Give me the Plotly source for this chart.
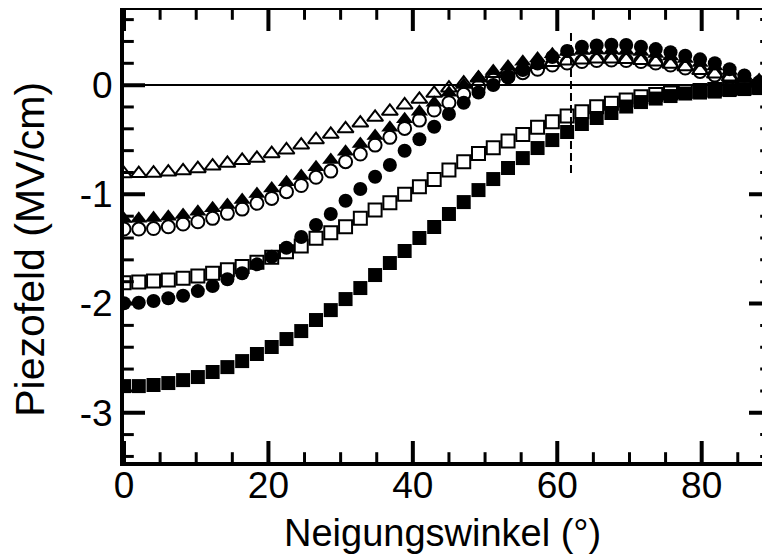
import plotly.graph_objects as go

# tilt angle (degrees), 45 samples from 0 to 90
angle = [0, 2.045, 4.091, 6.136, 8.182, 10.227, 12.273, 14.318, 16.364, 18.409,
         20.455, 22.5, 24.545, 26.591, 28.636, 30.682, 32.727, 34.773, 36.818, 38.864,
         40.909, 42.955, 45, 47.045, 49.091, 51.136, 53.182, 55.227, 57.273, 59.318,
         61.364, 63.409, 65.455, 67.5, 69.545, 71.591, 73.636, 75.682, 77.727, 79.773,
         81.818, 83.864, 85.909, 87.955, 90]

filled_squares = [-2.756, -2.756, -2.746, -2.728, -2.701, -2.673, -2.627, -2.582, -2.527, -2.462,
                  -2.398, -2.325, -2.252, -2.151, -2.060, -1.959, -1.858, -1.739, -1.629, -1.519,
                  -1.400, -1.299, -1.180, -1.071, -0.961, -0.860, -0.759, -0.668, -0.576, -0.503,
                  -0.429, -0.356, -0.301, -0.255, -0.196, -0.155, -0.123, -0.100, -0.077, -0.068,
                  -0.059, -0.045, -0.036, -0.027, -0.017]
open_squares = [-1.810, -1.803, -1.794, -1.785, -1.769, -1.748, -1.723, -1.690, -1.660, -1.623,
                -1.577, -1.526, -1.473, -1.403, -1.352, -1.297, -1.220, -1.144, -1.077, -1.000,
                -0.930, -0.863, -0.777, -0.701, -0.625, -0.573, -0.512, -0.451, -0.386, -0.335,
                -0.283, -0.244, -0.198, -0.167, -0.136, -0.106, -0.086, -0.072, -0.059, -0.049,
                -0.040, -0.031, -0.022, -0.013, -0.004]
filled_circles = [-1.998, -1.993, -1.977, -1.952, -1.929, -1.886, -1.840, -1.778, -1.723, -1.641,
                  -1.571, -1.489, -1.391, -1.281, -1.180, -1.059, -0.951, -0.839, -0.732, -0.601,
                  -0.496, -0.381, -0.265, -0.161, -0.068, 0.001, 0.072, 0.138, 0.197, 0.257,
                  0.312, 0.352, 0.364, 0.370, 0.367, 0.352, 0.330, 0.302, 0.270, 0.236,
                  0.200, 0.145, 0.088, 0.028, 0.000]
open_circles = [-1.318, -1.318, -1.313, -1.297, -1.272, -1.251, -1.220, -1.174, -1.135, -1.082,
                -1.037, -0.976, -0.919, -0.844, -0.787, -0.701, -0.631, -0.549, -0.478, -0.396,
                -0.320, -0.228, -0.161, -0.084, -0.015, 0.047, 0.077, 0.114, 0.145, 0.184,
                0.202, 0.216, 0.225, 0.230, 0.225, 0.216, 0.202, 0.184, 0.157, 0.125,
                0.092, 0.065, 0.038, 0.015, 0.001]
filled_triangles = [-1.226, -1.223, -1.217, -1.205, -1.190, -1.159, -1.128, -1.098, -1.052, -0.998,
                    -0.947, -0.890, -0.832, -0.753, -0.686, -0.610, -0.539, -0.466, -0.390, -0.313,
                    -0.244, -0.161, -0.070, 0.001, 0.070, 0.129, 0.170, 0.214, 0.245, 0.282,
                    0.303, 0.312, 0.317, 0.317, 0.312, 0.303, 0.285, 0.262, 0.239, 0.202,
                    0.170, 0.129, 0.083, 0.047, 0.010]
open_triangles = [-0.812, -0.810, -0.806, -0.796, -0.785, -0.765, -0.741, -0.716, -0.690, -0.670,
                  -0.628, -0.594, -0.549, -0.500, -0.450, -0.400, -0.347, -0.295, -0.240, -0.182,
                  -0.130, -0.075, -0.027, 0.019, 0.065, 0.106, 0.138, 0.166, 0.189, 0.207,
                  0.221, 0.230, 0.239, 0.239, 0.234, 0.225, 0.212, 0.192, 0.168, 0.134,
                  0.102, 0.074, 0.047, 0.019, 0.001]

# dashed marker line
dash_angle = 61.9
dash_top = 0.505
dash_bottom = -0.805

# axis ranges and ticks
X_RANGE = [0, 89.46]
Y_RANGE = [-3.451, 0.688]
x_major = [0, 20, 40, 60, 80]
x_minor = [5, 10, 15, 25, 30, 35, 45, 50, 55, 65, 70, 75, 85]
y_major = [-3, -2, -1, 0]
y_ticktext = ["-3", "-2", "-1", "0"]
y_minor = [-3.4, -3.2, -2.8, -2.6, -2.4, -2.2, -1.8, -1.6, -1.4, -1.2,
           -0.8, -0.6, -0.4, -0.2, 0.2, 0.4, 0.6]

FONT = "Liberation Sans, Arial, sans-serif"

fig = go.Figure()

# inward tick marks along all four frame edges (clipped to the plot area)
def tick_trace(xs, ys, symbol, size, width):
    return go.Scatter(x=xs, y=ys, mode="markers", hoverinfo="skip", showlegend=False,
                      marker=dict(symbol=symbol, size=size, color="black",
                                  line=dict(color="black", width=width)))

for edge in (Y_RANGE[0], Y_RANGE[1]):
    fig.add_trace(tick_trace(x_major, [edge] * len(x_major), "line-ns", 30, 4))
    fig.add_trace(tick_trace(x_minor, [edge] * len(x_minor), "line-ns", 14, 3))
for edge in (X_RANGE[0], X_RANGE[1]):
    fig.add_trace(tick_trace([edge] * len(y_major), y_major, "line-ew", 30, 4))
    fig.add_trace(tick_trace([edge] * len(y_minor), y_minor, "line-ew", 14, 3))

series = [
    ("open squares", open_squares, "square-open", 13, 2),
    ("filled squares", filled_squares, "square", 14, 0),
    ("open circles", open_circles, "circle-open", 13, 2),
    ("open triangles", open_triangles, "triangle-up-open", 14, 2),
    ("filled triangles", filled_triangles, "triangle-up", 15, 0),
    ("filled circles", filled_circles, "circle", 14, 0),
]
for name, vals, sym, size, lw in series:
    fig.add_trace(go.Scatter(
        x=angle, y=vals, mode="markers", name=name,
        marker=dict(symbol=sym, size=size, color="black",
                    line=dict(color="black", width=lw)),
        showlegend=False,
    ))

fig.add_shape(type="line", x0=dash_angle, x1=dash_angle, y0=dash_bottom, y1=dash_top,
              xref="x", yref="y", line=dict(color="black", width=2, dash="8px,4px"))

# axis titles
fig.add_annotation(text="Neigungswinkel (°)", xref="paper", yref="paper",
                   x=0.493, y=-0.156, xanchor="center", yanchor="middle",
                   showarrow=False, font=dict(family=FONT, size=38, color="black"))
fig.add_annotation(text="Piezofeld (MV/cm)", xref="paper", yref="paper",
                   x=-0.146, y=0.471, xanchor="center", yanchor="middle", textangle=-90,
                   showarrow=False, font=dict(family=FONT, size=41, color="black"))

# the page body adds an 8 px offset, so the figure is 8 px smaller in each direction
fig.update_layout(
    width=762, height=546,
    margin=dict(l=116, r=0, t=2, b=92),
    paper_bgcolor="white", plot_bgcolor="white",
    font=dict(family=FONT, color="black"),
    xaxis=dict(
        range=X_RANGE, tickmode="array", tickvals=x_major,
        showline=True, linewidth=4, linecolor="black", mirror=True,
        ticks="", showgrid=False, zeroline=False, automargin=False,
        tickfont=dict(family=FONT, size=37, color="black"),
        ticklabelstandoff=-12,
    ),
    yaxis=dict(
        range=Y_RANGE, tickmode="array", tickvals=y_major, ticktext=y_ticktext,
        showline=True, linewidth=4, linecolor="black", mirror=True,
        ticks="", showgrid=False, automargin=False,
        zeroline=True, zerolinecolor="black", zerolinewidth=1.5,
        tickfont=dict(family=FONT, size=37, color="black"),
    ),
)

fig.write_html("out.html")
